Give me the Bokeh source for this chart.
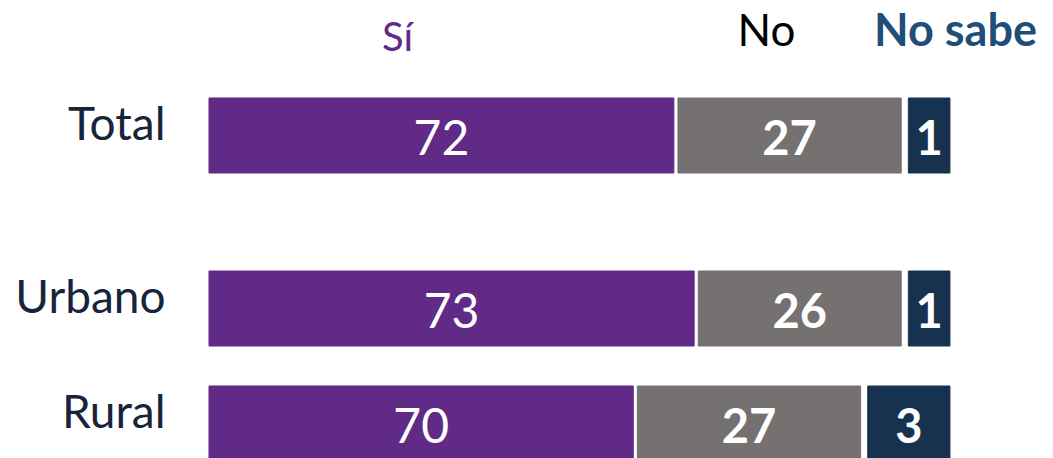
from bokeh.plotting import figure
from bokeh.models import Range1d, ColumnDataSource
from bokeh.core.properties import value
from bokeh.embed import file_html
from bokeh.resources import INLINE

# ---------------- data ----------------
categories = ["Total", "Urbano", "Rural"]
si = [72, 73, 70]
no = [27, 26, 27]
no_sabe = [1, 1, 3]
series_names = ["Sí", "No", "No sabe"]

# ---------------- layout / style ----------------
W, H = 1053, 458
PX_PER_UNIT = 20.3          # horizontal scale (pixels per percentage point)
BAR_LEFT_PX = 208.5         # where the visible bars start
CLIP = {"Sí": 49.1, "No": 16.0, "No sabe": -1.05}   # per-segment axis break, as in the original slide
GAP1, GAP2 = 0.2, 0.35      # white gaps between segments (in units)
ROW_CENTER = {"Total": 135, "Urbano": 308, "Rural": 423}
BAR_H = 75
TS = -17                    # baseline correction for text rendering
FONT = "Lato"
C_SI, C_NO, C_NS = "#612a87", "#757171", "#17324f"
C_LABEL = "#17243a"
C_NS_HEAD = "#1f4e79"

x0 = -BAR_LEFT_PX / PX_PER_UNIT


def px_to_x(px):
    return x0 + px / PX_PER_UNIT


p = figure(width=W, height=H, output_backend="svg", toolbar_location=None,
           x_range=Range1d(x0, x0 + W / PX_PER_UNIT), y_range=Range1d(H, 0),
           x_axis_location=None, y_axis_location=None, min_border=0)
p.outline_line_color = None
p.grid.visible = False
p.background_fill_color = "white"
p.border_fill_color = "white"

ys = [ROW_CENTER[c] for c in categories]
si_r = [v - CLIP["Sí"] for v in si]
no_l = [r + GAP1 for r in si_r]
no_r = [l + v - CLIP["No"] for l, v in zip(no_l, no)]
ns_l = [r + GAP2 for r in no_r]
ns_r = [l + v - CLIP["No sabe"] for l, v in zip(ns_l, no_sabe)]
si_l = [0 for _ in si]

src = ColumnDataSource(dict(
    y=ys, si_l=si_l, si_r=si_r, no_l=no_l, no_r=no_r, ns_l=ns_l, ns_r=ns_r,
    si_c=[(a + b) / 2 for a, b in zip(si_l, si_r)],
    no_c=[(a + b) / 2 for a, b in zip(no_l, no_r)],
    ns_c=[(a + b) / 2 for a, b in zip(ns_l, ns_r)],
    ty=[y + 19 + TS for y in ys],
    si_t=[str(v) for v in si], no_t=[str(v) for v in no], ns_t=[str(v) for v in no_sabe],
    cat=categories, cat_x=[px_to_x(165)] * len(categories), cat_y=[y + 4 + TS for y in ys],
))

p.hbar(y="y", left="si_l", right="si_r", height=BAR_H, color=C_SI, source=src)
p.hbar(y="y", left="no_l", right="no_r", height=BAR_H, color=C_NO, source=src)
p.hbar(y="y", left="ns_l", right="ns_r", height=BAR_H, color=C_NS, source=src)

p.text(x="si_c", y="ty", text="si_t", source=src, text_align="center",
       text_baseline="alphabetic", text_color="white", text_font=value(FONT),
       text_font_size="48px")
p.text(x="no_c", y="ty", text="no_t", source=src, text_align="center",
       text_baseline="alphabetic", text_color="white", text_font=value(FONT),
       text_font_size="47px", text_font_style="bold")
p.text(x="ns_c", y="ty", text="ns_t", source=src, text_align="center",
       text_baseline="alphabetic", text_color="white", text_font=value(FONT),
       text_font_size="47px", text_font_style="bold")

p.text(x="cat_x", y="cat_y", text="cat", source=src, text_align="right",
       text_baseline="alphabetic", text_color=C_LABEL, text_font=value(FONT),
       text_font_size="46px")

# headers
p.text(x=[px_to_x(397)], y=[52 + TS], text=[series_names[0]], text_align="center",
       text_baseline="alphabetic", text_color=C_SI, text_font=value(FONT),
       text_font_size="40px")
p.text(x=[px_to_x(766)], y=[45 + TS], text=[series_names[1]], text_align="center",
       text_baseline="alphabetic", text_color="#000000", text_font=value(FONT),
       text_font_size="44px")
p.text(x=[px_to_x(955)], y=[45 + TS], text=[series_names[2]], text_align="center",
       text_baseline="alphabetic", text_color=C_NS_HEAD, text_font=value(FONT),
       text_font_size="45px", text_font_style="bold")

open("out.html", "w").write(file_html(p, INLINE))
